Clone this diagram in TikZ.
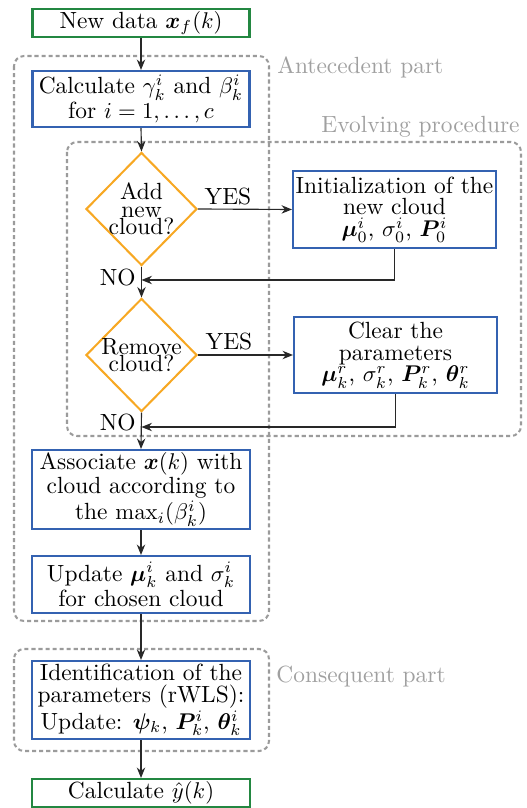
\documentclass[tikz,border=0pt]{standalone}
\usepackage{amsmath,bm}
\usetikzlibrary{shapes.geometric,arrows.meta}
\definecolor{cgreen}{RGB}{35,135,65}
\definecolor{cblue}{RGB}{52,98,177}
\definecolor{corange}{RGB}{247,168,35}
\definecolor{cframe}{RGB}{155,155,155}
\definecolor{clabel}{RGB}{160,160,160}
\definecolor{cline}{RGB}{40,40,40}
\def\pu{0.44pt}
\begin{document}
\begin{tikzpicture}[x=\pu,y=-\pu,
  box/.style={draw=cblue, line width=0.9pt, fill=white, inner sep=1pt, align=center,
    font=\fontsize{10.3}{9.6}\selectfont},
  gbox/.style={box, draw=cgreen},
  dec/.style={shape=diamond, draw=corange, line width=0.9pt, inner sep=0pt,
    minimum width=111*\pu, minimum height=113*\pu},
  dectext/.style={align=center, font=\fontsize{10.3}{7.6}\selectfont, inner sep=0pt},
  frame/.style={draw=cframe, line width=0.9pt, dash pattern=on 1.8pt off 1.3pt, rounded corners=4.4pt},
  conn/.style={draw=cline, line width=0.5pt, -{Stealth[length=4.6pt,width=3.7pt]}},
  lab/.style={text=clabel, inner sep=0pt, font=\fontsize{10.3}{12}\selectfont},
  yn/.style={inner sep=0pt, font=\fontsize{10.3}{12}\selectfont}]
\useasboundingbox (0,0) rectangle (526,808);

% frames
\draw[frame] (14,56) rectangle (269,621);
\draw[frame] (67,142) rectangle (521,436);
\draw[frame] (14,649) rectangle (269,751);
\node[lab, anchor=west] (antlab) at (277,67) {Antecedent part};
\node[lab, anchor=west] (evolab) at (321,127) {Evolving procedure};
\node[lab, anchor=west] (conlab) at (276,677) {Consequent part};

% nodes
\node[gbox, minimum width=217*\pu, minimum height=28*\pu] (n1) at (141,23) {New data $\bm{x}_f(k)$};
\node[box, minimum width=217*\pu, minimum height=56*\pu] (n2) at (141,99)
  {Calculate $\gamma_k^i$ and $\beta_k^i$\\ for $i=1,\ldots,c$};
\node[dec] (d1) at (141.5,209) {};
\node[dectext] (d1t) at (141.5,209) {Add\\new\\cloud?};
\node[box, minimum width=203*\pu, minimum height=77*\pu] (b3) at (394.5,209.5)
  {Initialization of the\\new cloud\\$\bm{\mu}_0^i$, $\sigma_0^i$, $\bm{P}_0^i$};
\node[dec] (d2) at (141.5,355) {};
\node[dectext] (d2t) at (141.5,355) {Remove\\cloud?};
\node[box, minimum width=203*\pu, minimum height=76*\pu] (b4) at (395.5,355)
  {Clear the\\parameters\\$\bm{\mu}_k^r$, $\sigma_k^r$, $\bm{P}_k^r$, $\bm{\theta}_k^r$};
\node[box, minimum width=218*\pu, minimum height=79*\pu] (b5) at (141,489.5)
  {Associate $\bm{x}(k)$ with\\cloud according to\\the $\max_i(\beta_k^i)$};
\node[box, minimum width=218*\pu, minimum height=57*\pu] (b6) at (141,584.5)
  {Update $\bm{\mu}_k^i$ and $\sigma_k^i$\\for chosen cloud};
\node[box, minimum width=218*\pu, minimum height=78*\pu] (b7) at (141,700)
  {Identification of the\\parameters (rWLS):\\Update: $\bm{\psi}_k$, $\bm{P}_k^i$, $\bm{\theta}_k^i$};
\node[gbox, minimum width=218*\pu, minimum height=28*\pu] (b8) at (141,793) {Calculate $\hat{y}(k)$};

% merge points
\coordinate (m1) at (141.5,280);
\coordinate (m2) at (141.5,427);

% connectors
\draw[conn] (n1.south) -- (n2.north);
\draw[conn] (n2.south) -- (d1.north);
\draw[conn] (d1.east) -- (b3.west);
\draw[conn] (b3.south) |- (m1);
\draw[conn] (d1.south) -- (d2.north);
\draw[conn] (d2.east) -- (b4.west);
\draw[conn] (b4.south) |- (m2);
\draw[conn] (d2.south) -- (b5.north);
\draw[conn] (b5.south) -- (b6.north);
\draw[conn] (b6.south) -- (b7.north);
\draw[conn] (b7.south) -- (b8.north);

% yes/no labels
\node[yn] (y1) at (228,197) {YES};
\node[yn] (y2) at (229,342) {YES};
\node[yn, anchor=east] (no1) at (136,278) {NO};
\node[yn, anchor=east] (no2) at (136,423) {NO};
\end{tikzpicture}
\end{document}
